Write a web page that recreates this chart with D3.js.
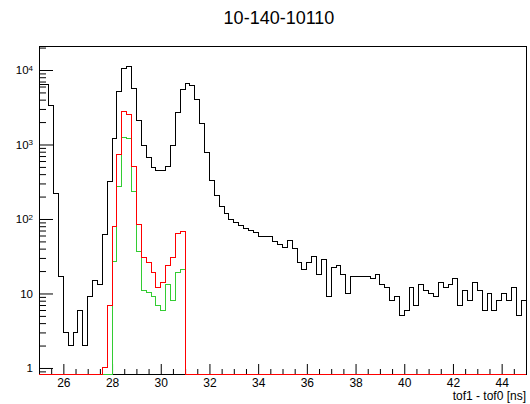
<!DOCTYPE html>
<html>
<head>
<meta charset="utf-8">
<script src="https://cdn.jsdelivr.net/npm/d3@7"></script>
<style>
  body { margin: 0; background: #fff; }
  svg { display: block; font-family: "Liberation Sans", Arial, sans-serif; }
</style>
</head>
<body>
<svg id="chart" width="530" height="404"></svg>
<script>
// histogram binning (tof1 - tof0, 0.2 ns bins from 25 to 45)
const binLow = 25;
const binWidth = 0.2;

const blackCounts = [
  6300, 6300, 3300, 220, 17, 3, 2, 3, 6, 2,
  9, 15, 13, 61, 320, 1200, 5200, 10500, 11000, 5600,
  2100, 960, 660, 490, 450, 450, 500, 960, 2700, 5500,
  6500, 6200, 4050, 1900, 780, 330, 204, 146, 120, 97,
  90, 82, 75, 70, 66, 58, 58, 58, 50, 46,
  41, 51, 40, 26, 21, 26, 31, 18, 29, 9,
  22, 24, 18, 10, 17, 17, 17, 17, 16, 18,
  13, 12, 8, 9, 5, 6, 12, 7, 13, 11,
  10, 9, 14, 12, 13, 16, 7, 11, 8, 14,
  11, 6, 10, 6, 8, 10, 8, 12, 5, 8
];

const greenCounts = [
  0, 0, 0, 0, 0, 0, 0, 0, 0, 0,
  0, 0, 0, 0, 0, 27, 272, 1260, 1200, 233,
  37, 11, 10.4, 9, 7, 6, 13, 8, 19, 21,
  0, 0, 0, 0, 0, 0, 0, 0, 0, 0,
  0, 0, 0, 0, 0, 0, 0, 0, 0, 0,
  0, 0, 0, 0, 0, 0, 0, 0, 0, 0,
  0, 0, 0, 0, 0, 0, 0, 0, 0, 0,
  0, 0, 0, 0, 0, 0, 0, 0, 0, 0,
  0, 0, 0, 0, 0, 0, 0, 0, 0, 0,
  0, 0, 0, 0, 0, 0, 0, 0, 0, 0
];

const redCounts = [
  0, 0, 0, 0, 0, 0, 0, 0, 0, 0,
  0, 0, 0, 1, 7, 79, 745, 2800, 2490, 504,
  85, 30, 26, 19, 12, 14, 24, 30, 63, 68,
  0, 0, 0, 0, 0, 0, 0, 0, 0, 0,
  0, 0, 0, 0, 0, 0, 0, 0, 0, 0,
  0, 0, 0, 0, 0, 0, 0, 0, 0, 0,
  0, 0, 0, 0, 0, 0, 0, 0, 0, 0,
  0, 0, 0, 0, 0, 0, 0, 0, 0, 0,
  0, 0, 0, 0, 0, 0, 0, 0, 0, 0,
  0, 0, 0, 0, 0, 0, 0, 0, 0, 0
];

const xTicks = [26, 28, 30, 32, 34, 36, 38, 40, 42, 44];
const yTicks = [1, 10, 100, 1000, 10000];
const yTickBase = ["1", "10", "10", "10", "10"];
const yTickExp = ["", "", "2", "3", "4"];

const title = "10-140-10110";
const xTitle = "tof1 - tof0 [ns]";

const svg = d3.select("#chart");
const frame = { left: 39, right: 526, top: 46, bottom: 374 };
const yMin = 0.83, yMax = 21000;

const x = d3.scaleLinear().domain([25, 45]).range([frame.left, frame.right]);
const y = d3.scaleLog().domain([yMin, yMax]).range([frame.bottom, frame.top]);

// title
svg.append("text")
  .attr("x", 279)
  .attr("y", 24)
  .attr("text-anchor", "middle")
  .attr("font-size", 18)
  .text(title);

// frame
svg.append("rect")
  .attr("x", frame.left)
  .attr("y", frame.top)
  .attr("width", frame.right - frame.left)
  .attr("height", frame.bottom - frame.top)
  .attr("fill", "none")
  .attr("stroke", "#000")
  .style("shape-rendering", "crispEdges");

// x axis: major + minor ticks pointing inward
const xMinor = d3.range(25.5, 45, 0.5).filter(function (v) { return v % 2 != 0; });

svg.append("g")
  .attr("transform", `translate(0,${frame.bottom})`)
  .call(d3.axisBottom(x).tickValues(xMinor).tickSize(-5).tickFormat(""))
  .call(function (g) { g.select(".domain").remove(); });

svg.append("g")
  .attr("transform", `translate(0,${frame.bottom})`)
  .call(d3.axisBottom(x).tickValues(xTicks).tickSize(-10).tickPadding(4).tickFormat(d3.format("d")))
  .call(function (g) {
    g.select(".domain").remove();
    g.selectAll("text").attr("font-size", 12).attr("font-family", "Liberation Sans, Arial, sans-serif").attr("fill", "#000");
  });

svg.append("text")
  .attr("x", frame.right)
  .attr("y", 400)
  .attr("text-anchor", "end")
  .attr("font-size", 12)
  .text(xTitle);

// y axis (log): decades + minor ticks
const yMinor = [];
for (const d of [0.1, 1, 10, 100, 1000, 10000]) {
  for (let k = 2; k <= 9; k++) {
    const v = k * d;
    if (v >= yMin && v <= yMax) yMinor.push(v);
  }
}

svg.append("g")
  .attr("transform", `translate(${frame.left},0)`)
  .call(d3.axisLeft(y).tickValues(yMinor).tickSize(-7).tickFormat(""))
  .call(function (g) { g.select(".domain").remove(); });

const yAxis = svg.append("g")
  .attr("transform", `translate(${frame.left},0)`)
  .call(d3.axisLeft(y).tickValues(yTicks).tickSize(-14).tickPadding(6).tickFormat(""))
  .call(function (g) { g.select(".domain").remove(); });

yAxis.selectAll(".tick text").each(function (d, i) {
  const t = d3.select(this)
    .attr("font-size", 11.5)
    .attr("font-family", "Liberation Sans, Arial, sans-serif")
    .attr("fill", "#000");
  t.append("tspan").text(yTickBase[i]);
  if (yTickExp[i]) {
    t.append("tspan")
      .attr("dy", "-0.45em")
      .attr("font-size", 8)
      .text(yTickExp[i]);
  }
});

// histograms
function stepPoints(counts) {
  const pts = [];
  counts.forEach(function (c, i) {
    const lo = binLow + i * binWidth;
    pts.push([lo, c]);
    pts.push([lo + binWidth, c]);
  });
  return pts;
}

const line = d3.line()
  .x(function (d) { return x(d[0]); })
  .y(function (d) { return y(Math.min(Math.max(d[1], yMin), yMax)); });

const hists = [
  { counts: blackCounts, color: "#000" },
  { counts: greenCounts, color: "#33cc33" },
  { counts: redCounts, color: "#ff0000" },
];

svg.append("g")
  .selectAll("path")
  .data(hists)
  .join("path")
  .attr("d", function (d) { return line(stepPoints(d.counts)); })
  .attr("fill", "none")
  .attr("stroke", function (d) { return d.color; })
  .attr("stroke-width", 1)
  .style("shape-rendering", "crispEdges");
</script>
</body>
</html>
